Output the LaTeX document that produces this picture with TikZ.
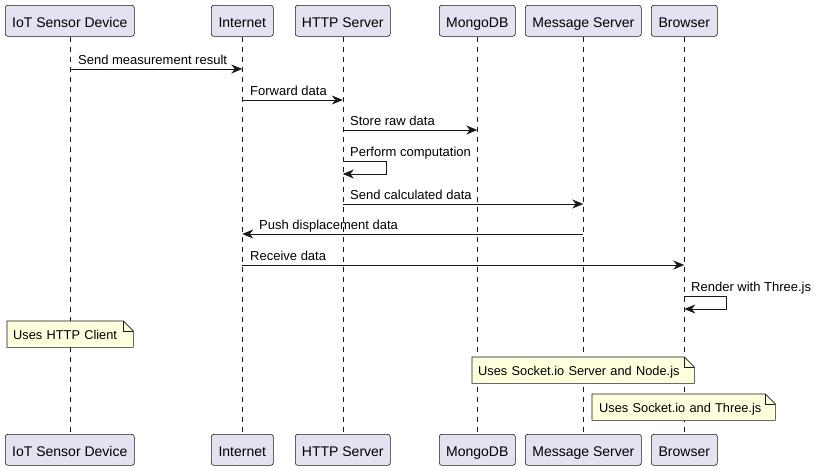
\documentclass[tikz,border=0pt]{standalone}
\usepackage{fontspec}
\setmainfont{Liberation Sans}
\usetikzlibrary{arrows.meta,calc,backgrounds}
\definecolor{partfill}{HTML}{E2E2F0}
\definecolor{ink}{HTML}{181818}
\definecolor{notefill}{HTML}{FEFFDD}
\begin{document}
\begin{tikzpicture}[x=1pt,y=-1pt,
  part/.style={draw=ink, fill=partfill, rounded corners=2.5pt, line width=0.6pt,
    font=\fontsize{14}{16}\selectfont, inner sep=0pt, minimum height=31pt,
    text height=12.5pt, text depth=0pt, anchor=north west},
  life/.style={draw=ink, line width=0.6pt, dash pattern=on 5pt off 5pt},
  msg/.style={draw=ink, line width=0.9pt, -{Stealth[length=11pt,width=9pt,inset=3.5pt]}},
  lbl/.style={font=\fontsize{13}{15}\selectfont, inner sep=0pt, anchor=base west},
  notetext/.style={font=\fontsize{12.8}{15}\selectfont, inner ysep=0pt, minimum height=26pt,
    text height=11.5pt, text depth=0pt, align=left, anchor=north west},
  noteshape/.style={draw=ink, fill=notefill, line width=0.6pt},
  fold/.style={draw=ink, line width=0.6pt}
]
\useasboundingbox (0,0) rectangle (817,471);

% participants (top)
\node[part, minimum width=129pt] (t1) at (5,5) {IoT Sensor Device};
\node[part, minimum width=62pt] (t2) at (211,5) {Internet};
\node[part, minimum width=95pt] (t3) at (295,5) {HTTP Server};
\node[part, minimum width=76pt] (t4) at (439,5) {MongoDB};
\node[part, minimum width=116pt] (t5) at (525,5) {Message Server};
\node[part, minimum width=66pt] (t6) at (651,5) {Browser};
% participants (bottom)
\node[part, minimum width=129pt] (b1) at (5,434) {IoT Sensor Device};
\node[part, minimum width=62pt] (b2) at (211,434) {Internet};
\node[part, minimum width=95pt] (b3) at (295,434) {HTTP Server};
\node[part, minimum width=76pt] (b4) at (439,434) {MongoDB};
\node[part, minimum width=116pt] (b5) at (525,434) {Message Server};
\node[part, minimum width=66pt] (b6) at (651,434) {Browser};

% notes (text)
\node[notetext, text width=114pt, inner xsep=6pt] (n1) at (7,321) {Uses HTTP Client};
\node[notetext, text width=210pt, inner xsep=6pt] (n2) at (472,357) {Uses Socket.io Server and Node.js};
\node[notetext, text width=169pt, inner xsep=7pt] (n3) at (592,394) {Uses Socket.io and Three.js};

\begin{scope}[on background layer]
  \fill[white] (0,0) rectangle (817,471);
  \foreach \i in {1,...,6} {\draw[life] (t\i.south) -- (b\i.north);}
  \foreach \n in {n1,n2,n3} {
    \draw[noteshape] (\n.north west) -- ($(\n.north east)+(-10,0)$) -- ($(\n.north east)+(0,10)$)
      -- (\n.south east) -- (\n.south west) -- cycle;
    \draw[fold] ($(\n.north east)+(-10,0)$) -- ($(\n.north east)+(-10,10)$) -- ($(\n.north east)+(0,10)$);
  }
\end{scope}

% messages
\draw[msg] (t1.south |- 0,69) -- (t2.south |- 0,69);
\node[lbl] (m1) at (78,64.5) {Send measurement result};
\draw[msg] (t2.south |- 0,100) -- (t3.south |- 0,100);
\node[lbl] (m2) at (250,95.5) {Forward data};
\draw[msg] (t3.south |- 0,130) -- (t4.south |- 0,130);
\node[lbl] (m3) at (350,125.5) {Store raw data};
\draw[msg] (t3.south |- 0,161) -- ++(44,0) -- ++(0,13) -- (t3.south |- 0,174);
\node[lbl] (m4) at (350,156.5) {Perform computation};
\draw[msg] (t3.south |- 0,204) -- (t5.south |- 0,204);
\node[lbl] (m5) at (350,199.5) {Send calculated data};
\draw[msg] (t5.south |- 0,234) -- (t2.south |- 0,234);
\node[lbl] (m6) at (259,229.5) {Push displacement data};
\draw[msg] (t2.south |- 0,265) -- (t6.south |- 0,265);
\node[lbl] (m7) at (250,260.5) {Receive data};
\draw[msg] (t6.south |- 0,296) -- ++(42,0) -- ++(0,13) -- (t6.south |- 0,309);
\node[lbl] (m8) at (691,291.5) {Render with Three.js};
\end{tikzpicture}
\end{document}
